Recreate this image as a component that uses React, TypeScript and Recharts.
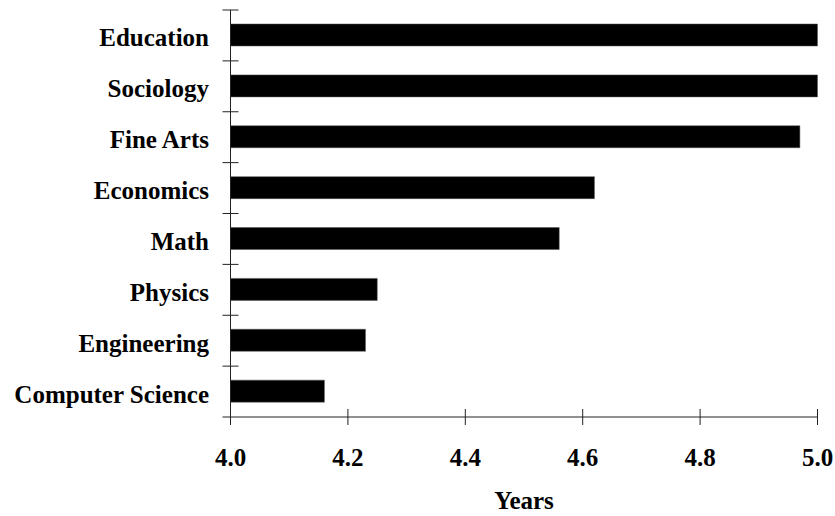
import React from 'react';
import { BarChart, Bar, XAxis, YAxis } from 'recharts';

// Average years to degree, by major
const majors = [
  'Education',
  'Sociology',
  'Fine Arts',
  'Economics',
  'Math',
  'Physics',
  'Engineering',
  'Computer Science',
];
const years = [5.0, 5.0, 4.97, 4.62, 4.56, 4.25, 4.23, 4.16];
const xTicks = [4.0, 4.2, 4.4, 4.6, 4.8, 5.0];

const data = majors.map((name, i) => ({ name, years: years[i] }));

const W = 835;
const H = 516;
const MARGIN = { top: 10, right: 17.5, left: 0, bottom: 0 };
const Y_AXIS_W = 230.5;
const X_AXIS_H = 99;
const BAND = (H - MARGIN.top - MARGIN.bottom - X_AXIS_H) / majors.length;

const FONT = '"Liberation Serif", "Times New Roman", serif';
const AXIS_COLOR = '#222';

// x tick: line crossing the axis, label underneath
const XTick = (props: any) => {
  const { x, y, payload } = props;
  return (
    <g>
      <line x1={x} x2={x} y1={y - 8} y2={y + 8} stroke={AXIS_COLOR} strokeWidth={1} />
      <text x={x} y={y + 49} textAnchor="middle" fontFamily={FONT} fontWeight="bold" fontSize={25} fill="#000">
        {Number(payload.value).toFixed(1)}
      </text>
    </g>
  );
};

// y tick: crossing marks sit between categories, label at band centre
const YTick = (props: any) => {
  const { x, y, payload, index } = props;
  const half = BAND / 2;
  return (
    <g>
      <line x1={x - 8} x2={x + 8} y1={y - half} y2={y - half} stroke={AXIS_COLOR} strokeWidth={1} />
      {index === majors.length - 1 && (
        <line x1={x - 8} x2={x} y1={y + half} y2={y + half} stroke={AXIS_COLOR} strokeWidth={1} />
      )}
      <text x={x - 21.5} y={y + 11} textAnchor="end" fontFamily={FONT} fontWeight="bold" fontSize={25} fill="#000">
        {payload.value}
      </text>
    </g>
  );
};

export default function App() {
  return (
    <div style={{ position: 'absolute', left: 0, top: 0, background: '#fff' }}>
      <BarChart width={W} height={H} data={data} layout="vertical" margin={MARGIN} barSize={22}>
        <XAxis
          type="number"
          domain={[4, 5]}
          ticks={xTicks}
          interval={0}
          height={X_AXIS_H}
          axisLine={{ stroke: AXIS_COLOR }}
          tickLine={false}
          tickSize={0}
          tickMargin={0}
          tick={XTick}
          label={{
            value: 'Years',
            position: 'insideBottom',
            offset: 7,
            style: { fontFamily: FONT, fontWeight: 'bold', fontSize: 25, fill: '#000' },
          }}
        />
        <YAxis
          type="category"
          dataKey="name"
          width={Y_AXIS_W}
          interval={0}
          axisLine={{ stroke: AXIS_COLOR }}
          tickLine={false}
          tickSize={0}
          tickMargin={0}
          tick={YTick}
        />
        <Bar dataKey="years" fill="#000" stroke="#555" strokeWidth={0.5} isAnimationActive={false} />
      </BarChart>
    </div>
  );
}
